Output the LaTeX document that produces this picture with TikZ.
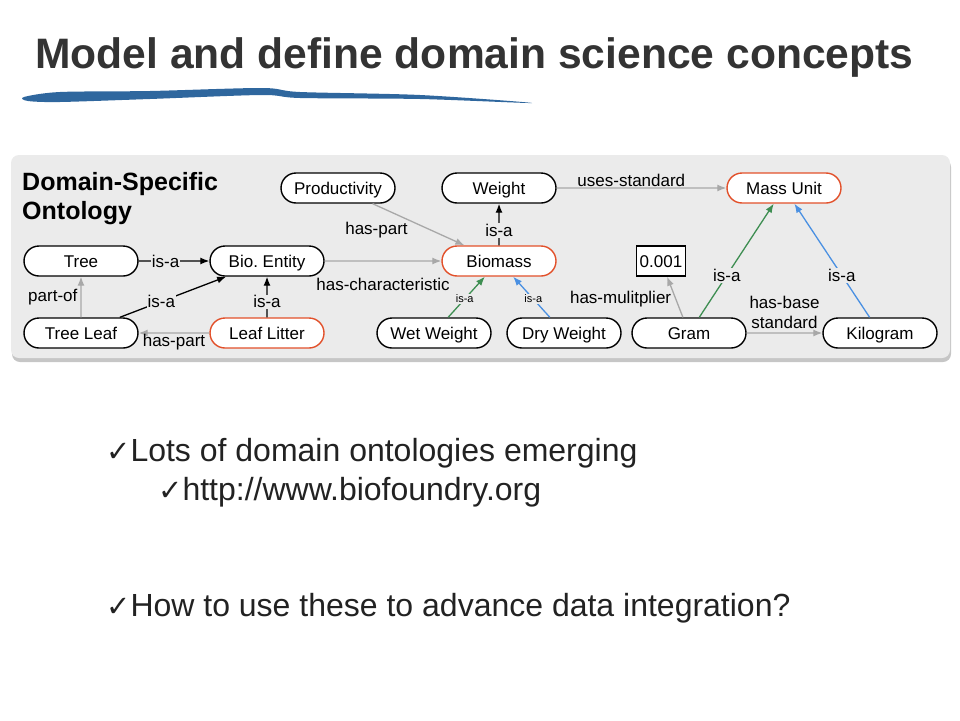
\documentclass[tikz,border=0pt]{standalone}
\usepackage{fontspec}
\setmainfont{Liberation Sans}
\newfontfamily\checkfont{DejaVu Sans}
\usetikzlibrary{shapes.misc, arrows.meta, shadows}
\definecolor{panelgray}{HTML}{EBEBEB}
\definecolor{keyorange}{HTML}{E2502A}
\definecolor{relgray}{HTML}{A8A8A8}
\definecolor{isagreen}{HTML}{3E8E52}
\definecolor{isablue}{HTML}{4A90E2}
\definecolor{brushblue}{HTML}{2F679E}
\definecolor{titlegray}{HTML}{333333}
\definecolor{bullettext}{HTML}{222222}
\tikzstyle{concept} = [rounded rectangle, draw, line width=1.4pt, fill=white, minimum width=118pt, minimum height=30pt, inner sep=2pt, text height=12pt, text depth=0pt, font=\fontsize{17}{20}\selectfont]
\tikzstyle{keyconcept} = [concept, draw=keyorange]
\tikzstyle{valuebox} = [rectangle, draw, line width=1.4pt, fill=white, minimum width=49pt, minimum height=30pt, inner sep=2pt, text height=12pt, text depth=0pt, font=\fontsize{17}{20}\selectfont]
\tikzstyle{rel} = [draw=relgray, line width=1.3pt, -{Latex[length=9pt, width=7pt]}]
\tikzstyle{isa} = [draw, line width=1.3pt, -{Latex[length=9pt, width=7pt]}]
\tikzstyle{lbl} = [font=\fontsize{17}{20}\selectfont, inner sep=1pt]
\tikzstyle{onlbl} = [lbl, fill=panelgray]
\tikzstyle{smalllbl} = [font=\fontsize{11}{12}\selectfont, inner sep=1pt, fill=panelgray]
\tikzstyle{bullet} = [anchor=base west, inner sep=0pt, text=bullettext, font=\fontsize{32}{38}\selectfont]
\newcommand{\chk}{{\checkfont\fontsize{29}{29}\selectfont ✓}}

\begin{document}
\begin{tikzpicture}[x=1pt, y=-1pt]
  \useasboundingbox (0,0) rectangle (960,720);
  % title and brush stroke
  \node [anchor=base west, inner sep=0pt, text=titlegray, font=\bfseries\fontsize{42.6}{48}\selectfont] (title) at (35,68) {Model and define domain science concepts};
  \fill [brushblue] plot [smooth cycle, tension=0.5] coordinates {(24,97) (60,92) (150,91) (262,88) (300,92) (420,95) (532,103) (420,99) (300,98) (262,95) (150,99) (60,102) (28,101)};
  % panel
  \fill [panelgray, rounded corners=8pt, drop shadow={shadow xshift=1pt, shadow yshift=-4pt, opacity=0.45}] (11,155) rectangle (950,358);
  \node [anchor=north west, align=left, inner sep=0pt, font=\bfseries\fontsize{25}{29}\selectfont] (onto) at (22,172) {Domain-Specific\\Ontology};
  % concepts
  \node [concept]    (prod)   at (338,188) {Productivity};
  \node [concept]    (wgt)    at (499,188) {Weight};
  \node [keyconcept] (mass)   at (784,188) {Mass Unit};
  \node [concept]    (tree)   at (81,261)  {Tree};
  \node [concept]    (bio)    at (267,261) {Bio.\ Entity};
  \node [keyconcept] (biom)   at (499,261) {Biomass};
  \node [valuebox]   (mult)   at (661,261) {0.001};
  \node [concept]    (leaf)   at (81,333)  {Tree Leaf};
  \node [keyconcept] (litter) at (267,333) {Leaf Litter};
  \node [concept]    (wet)    at (434,333) {Wet Weight};
  \node [concept]    (dry)    at (564,333) {Dry Weight};
  \node [concept]    (gram)   at (689,333) {Gram};
  \node [concept]    (kilo)   at (880,333) {Kilogram};
  % relations
  \path [isa] (tree) -- node [onlbl, pos=0.38] {is-a} (bio);
  \path [isa] (leaf.22) -- node [onlbl, pos=0.39] {is-a} (bio.201);
  \path [isa] (litter) -- node [onlbl, pos=0.38] {is-a} (bio);
  \path [rel] (litter) -- node [lbl, below=0pt] {has-part} (leaf);
  \path [rel] (leaf) -- node [lbl, left=2pt] {part-of} (tree);
  \path [rel] (bio) -- node [lbl, below=16pt] {has-characteristic} (biom);
  \path [rel] (prod) -- node [lbl, pos=0.4, anchor=north east] {has-part} (biom);
  \path [isa] (biom) -- node [onlbl, pos=0.35] {is-a} (wgt);
  \path [rel] (wgt) -- node [lbl, pos=0.44, above=0pt] {uses-standard} (mass);
  \path [isa, draw=isagreen] (wet) -- node [smalllbl, pos=0.45] {is-a} (biom);
  \path [isa, draw=isablue] (dry) -- node [smalllbl, pos=0.45] {is-a} (biom);
  \path [rel] (gram) -- node [lbl, pos=0.45, left=3pt] {has-mulitplier} (mult);
  \path [isa, draw=isagreen] (gram) -- node [onlbl, pos=0.37] {is-a} (mass);
  \path [isa, draw=isablue] (kilo) -- node [onlbl, pos=0.37] {is-a} (mass);
  \path [rel] (gram) -- node [lbl, above=3pt, align=center] {has-base\\standard} (kilo);
  % bullets
  \node [bullet] (lots) at (106,461) {\chk Lots of domain ontologies emerging};
  \node [bullet] (url)  at (158,500) {\chk http://www.biofoundry.org};
  \node [bullet] (how)  at (106,616) {\chk How to use these to advance data integration?};
\end{tikzpicture}
\end{document}
